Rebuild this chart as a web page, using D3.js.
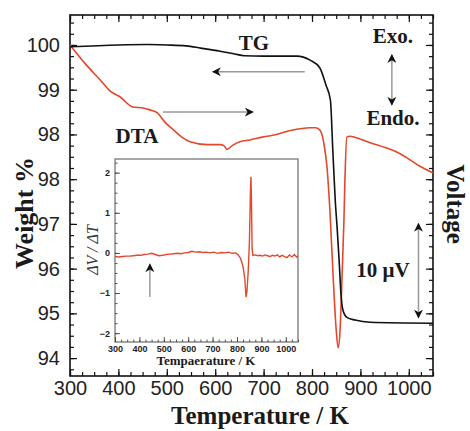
<!DOCTYPE html>
<html>
<head>
<meta charset="utf-8">
<script src="https://cdn.jsdelivr.net/npm/d3@7"></script>
<style>
body { margin: 0; background: #fff; }
svg { display: block; }
</style>
</head>
<body>
<svg></svg>
<script>
// TG curve, weight in axis units (tick labels below are as printed on the figure)
const tgTemp   = [300, 400, 460, 500, 540, 570, 610, 640, 660, 700, 769, 796, 816, 829, 838, 843, 848, 852, 856, 860, 864, 872, 889, 920, 1050];
const tgWeight = [99.96, 100.0, 100.01, 100.0, 99.98, 99.93, 99.86, 99.8, 99.76, 99.75, 99.75, 99.66, 99.49, 99.1, 98.77, 97.65, 96.53, 95.9, 95.19, 94.41, 94.07, 93.91, 93.85, 93.8, 93.78];

// DTA curve, voltage in microvolts relative to start
const dtaTemp = [300, 330, 362, 383, 403, 430, 451, 465, 480, 496, 513, 531, 548, 583, 610, 618, 624, 635, 651, 672, 697, 719, 755, 796, 808, 817, 825, 831, 837, 843, 850, 854, 858, 862, 866, 868, 872, 879, 899, 920, 951, 976, 996, 1023, 1050];
const dtaVolt = [0, -1.9, -3.7, -4.9, -5.5, -6.6, -6.7, -6.9, -7.2, -8.2, -9.0, -9.8, -10.3, -10.6, -10.6, -10.7, -11.1, -10.7, -10.3, -10.1, -9.8, -9.6, -9.1, -8.8, -8.8, -9.1, -10.6, -13.0, -17.6, -23.9, -30.3, -32.2, -30.3, -24.7, -18.6, -14.4, -9.8, -9.7, -10.0, -10.4, -10.9, -11.4, -12.0, -12.9, -13.6];

// inset: derivative dV/dT
const insetTemp = [300, 315, 330, 345, 360, 375, 390, 405, 420, 435, 450, 465, 480, 495, 510, 525, 540, 555, 570, 585, 600, 615, 630, 645, 660, 675, 690, 705, 720, 735, 750, 765, 780, 795, 805, 815, 825, 832, 837, 841, 846, 851, 855, 857, 859, 862, 865, 875, 885, 895, 905, 915, 925, 935, 945, 955, 965, 975, 985, 995, 1005, 1015, 1025, 1035, 1045, 1050];
const insetVal  = [-0.09, -0.1, -0.09, -0.08, -0.08, -0.07, -0.06, -0.06, -0.04, -0.03, -0.01, -0.04, -0.07, -0.06, -0.04, -0.03, -0.02, -0.01, -0.02, 0.0, 0.01, 0.04, 0.02, 0.03, 0.01, 0.02, 0.0, 0.02, -0.01, 0.01, 0.0, 0.02, -0.01, 0.0, -0.05, -0.14, -0.35, -0.65, -1.1, -0.95, -0.45, 0.3, 1.5, 1.9, 1.4, 0.1, -0.06, -0.05, -0.07, -0.06, -0.08, -0.05, -0.07, -0.09, -0.06, -0.08, -0.05, -0.1, -0.06, -0.09, -0.12, -0.05, -0.1, -0.04, -0.11, -0.08];

const xTicks = [300, 400, 500, 600, 700, 800, 900, 1000];
const yTicks = [100, 99, 98, 97, 96, 95, 94, 93];
const yTickLabels = ["100", "99", "98", "98", "97", "96", "95", "94"];
const insetXTicks = [300, 400, 500, 600, 700, 800, 900, 1000];
const insetYTicks = [-2, -1, 0, 1, 2];

const W = 470, H = 431;
const svg = d3.select("svg").attr("width", W).attr("height", H);

const L = 70, R = 433, T = 15, B = 376;
const x = d3.scaleLinear().domain([300, 1050]).range([L, R]);
const y = d3.scaleLinear().domain([92.6, 100.67]).range([B, T]);
const v = d3.scaleLinear().domain([-35.2, 3.19]).range([B, T]);

const defs = svg.append("defs");
defs.append("marker").attr("id", "head")
  .attr("viewBox", "0 0 10 10").attr("refX", 9).attr("refY", 5)
  .attr("markerWidth", 9).attr("markerHeight", 9).attr("markerUnits", "userSpaceOnUse")
  .attr("orient", "auto-start-reverse")
  .append("path").attr("d", "M0,0 L10,5 L0,10 L3,5 Z").attr("fill", "#111");

function styleAxis(g, size) {
  g.select(".domain").remove();
  g.selectAll(".tick line").attr("stroke", "#111").attr("stroke-width", 1.2);
  g.selectAll("text").attr("fill", "#222").attr("font-family", "Liberation Sans, Arial, sans-serif").attr("font-size", size);
}

// main axes: major + minor, ticks inward
const xMinor = d3.range(300, 1051, 25);
const yMinor = d3.range(92.75, 100.67, 0.25);

svg.append("g").attr("transform", `translate(0,${B})`)
  .call(d3.axisBottom(x).tickValues(xMinor).tickSize(-4).tickFormat(""))
  .call(g => styleAxis(g, 20));
svg.append("g").attr("transform", `translate(0,${B})`)
  .call(d3.axisBottom(x).tickValues(xTicks).tickSizeInner(-7).tickSizeOuter(0).tickPadding(5).tickFormat(d3.format("d")))
  .call(g => styleAxis(g, 20));
svg.append("g").attr("transform", `translate(0,${T})`)
  .call(d3.axisTop(x).tickValues(xMinor).tickSize(-4).tickFormat(""))
  .call(g => styleAxis(g, 20));
svg.append("g").attr("transform", `translate(0,${T})`)
  .call(d3.axisTop(x).tickValues(xTicks).tickSize(-7).tickFormat(""))
  .call(g => styleAxis(g, 20));

svg.append("g").attr("transform", `translate(${L},0)`)
  .call(d3.axisLeft(y).tickValues(yMinor).tickSize(-4).tickFormat(""))
  .call(g => styleAxis(g, 20));
svg.append("g").attr("transform", `translate(${L},0)`)
  .call(d3.axisLeft(y).tickValues(yTicks).tickSizeInner(-7).tickSizeOuter(0).tickPadding(10)
    .tickFormat((d, i) => yTickLabels[i]))
  .call(g => styleAxis(g, 20));
svg.append("g").attr("transform", `translate(${R},0)`)
  .call(d3.axisRight(y).tickValues(yMinor).tickSize(-4).tickFormat(""))
  .call(g => styleAxis(g, 20));
svg.append("g").attr("transform", `translate(${R},0)`)
  .call(d3.axisRight(y).tickValues(yTicks).tickSize(-7).tickFormat(""))
  .call(g => styleAxis(g, 20));

svg.append("rect").attr("x", L).attr("y", T).attr("width", R - L).attr("height", B - T)
  .attr("fill", "none").attr("stroke", "#111").attr("stroke-width", 1.6);

// curves
const tgLine = d3.line().x(d => x(d[0])).y(d => y(d[1])).curve(d3.curveMonotoneX);
const dtaLine = d3.line().x(d => x(d[0])).y(d => v(d[1])).curve(d3.curveMonotoneX);

svg.append("path").datum(dtaTemp.map((t, i) => [t, dtaVolt[i]]))
  .attr("d", dtaLine).attr("fill", "none").attr("stroke", "#e4472c").attr("stroke-width", 1.6);
svg.append("path").datum(tgTemp.map((t, i) => [t, tgWeight[i]]))
  .attr("d", tgLine).attr("fill", "none").attr("stroke", "#111").attr("stroke-width", 1.6);

// annotation arrows
function arrow(x1, y1, x2, y2, both) {
  const p = svg.append("line").attr("x1", x1).attr("y1", y1).attr("x2", x2).attr("y2", y2)
    .attr("stroke", "#999").attr("stroke-width", 1.5).attr("marker-end", "url(#head)");
  if (both) p.attr("marker-start", "url(#head)");
}
arrow(x(785), y(99.4), x(595), y(99.4));
arrow(x(492), y(98.5), x(678), y(98.5));
arrow(x(965), y(99.78), x(965), y(98.66), true);
arrow(x(1020), v(-19), x(1020), v(-29), true);

const serif = "Liberation Serif, Times New Roman, serif";
function label(txt, px, py, size, anchor) {
  return svg.append("text").attr("x", px).attr("y", py).text(txt)
    .attr("font-family", serif).attr("font-weight", "bold").attr("font-size", size)
    .attr("fill", "#1a1a1a").attr("text-anchor", anchor || "middle");
}
label("TG", 254, 50, 21);
label("DTA", 137, 143, 21);
label("Exo.", 393, 43, 21);
label("Endo.", 393, 125, 21);
label("10 μV", 383, 277, 21);

// axis titles
label("Temperature / K", 260, 424, 25);
label("Weight %", 0, 0, 26).attr("transform", "translate(33,213) rotate(-90)");
label("Voltage", 0, 0, 25).attr("transform", "translate(447,204) rotate(90)");

// inset
const iL = 115, iR = 298, iT = 159, iB = 342;
const x2 = d3.scaleLinear().domain([300, 1050]).range([iL, iR]);
const y2 = d3.scaleLinear().domain([-2.22, 2.34]).range([iB, iT]);

svg.append("rect").attr("x", iL).attr("y", iT).attr("width", iR - iL).attr("height", iB - iT)
  .attr("fill", "#fff").attr("stroke", "#777").attr("stroke-width", 1.3);

function styleInset(g) {
  g.select(".domain").remove();
  g.selectAll(".tick line").attr("stroke", "#444").attr("stroke-width", 0.9);
  g.selectAll("text").attr("fill", "#222").attr("font-family", "Liberation Sans, Arial, sans-serif")
    .attr("font-weight", "bold").attr("font-size", 9);
}
svg.append("g").attr("transform", `translate(0,${iB})`)
  .call(d3.axisBottom(x2).tickValues(d3.range(300, 1051, 25)).tickSize(-2.5).tickFormat(""))
  .call(styleInset);
svg.append("g").attr("transform", `translate(0,${iB})`)
  .call(d3.axisBottom(x2).tickValues(insetXTicks).tickSizeInner(-5).tickSizeOuter(0).tickPadding(4).tickFormat(d3.format("d")))
  .call(styleInset);
svg.append("g").attr("transform", `translate(${iL},0)`)
  .call(d3.axisLeft(y2).tickValues(d3.range(-2, 2.3, 0.25)).tickSize(-2.5).tickFormat(""))
  .call(styleInset);
svg.append("g").attr("transform", `translate(${iL},0)`)
  .call(d3.axisLeft(y2).tickValues(insetYTicks).tickSizeInner(-5).tickSizeOuter(0).tickPadding(5).tickFormat(d3.format("d")))
  .call(styleInset);

svg.append("path").datum(insetTemp.map((t, i) => [t, insetVal[i]]))
  .attr("d", d3.line().x(d => x2(d[0])).y(d => y2(d[1])))
  .attr("fill", "none").attr("stroke", "#e4472c").attr("stroke-width", 1.4);

svg.append("line").attr("x1", x2(443)).attr("y1", y2(-1.1)).attr("x2", x2(443)).attr("y2", y2(-0.28))
  .attr("stroke", "#999").attr("stroke-width", 1.5).attr("marker-end", "url(#head)");

svg.append("text").attr("x", 206).attr("y", 365).attr("text-anchor", "middle")
  .attr("font-family", serif).attr("font-weight", "bold").attr("font-size", 13).attr("fill", "#1a1a1a")
  .text("Tempaerature / K");
svg.append("text").attr("transform", "translate(98,250) rotate(-90)").attr("text-anchor", "middle")
  .attr("font-family", serif).attr("font-style", "italic").attr("font-size", 16).attr("fill", "#333")
  .text("ΔV / ΔT");
</script>
</body>
</html>
